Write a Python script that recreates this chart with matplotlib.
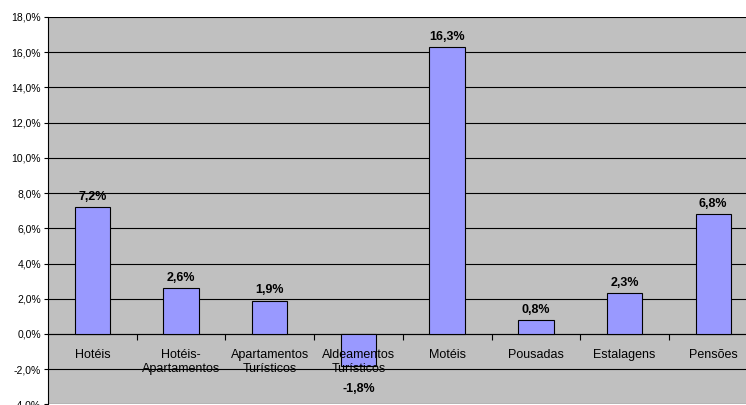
import matplotlib
matplotlib.use("Agg")
import matplotlib.pyplot as plt
from matplotlib.ticker import FuncFormatter, FixedLocator

plt.rcParams['font.family'] = ['Liberation Sans', 'DejaVu Sans']

categories = ["Hotéis", "Hotéis-\nApartamentos", "Apartamentos\nTurísticos",
              "Aldeamentos\nTurísticos", "Motéis", "Pousadas", "Estalagens", "Pensões"]
values = [7.2, 2.6, 1.9, -1.8, 16.3, 0.8, 2.3, 6.8]
value_labels = ["7,2%", "2,6%", "1,9%", "-1,8%", "16,3%", "0,8%", "2,3%", "6,8%"]

W, H = 746, 405
fig = plt.figure(figsize=(W / 100, H / 100), dpi=100)
left, right, top, bottom = 48, 757.6, 17, 404.4
ax = fig.add_axes([left / W, 1 - bottom / H, (right - left) / W, (bottom - top) / H])
ax.set_facecolor("#c0c0c0")

x = list(range(len(categories)))
ax.bar(x, values, width=0.4, color="#9999ff", edgecolor="black", linewidth=0.8, zorder=3)

ax.set_xlim(-0.5, len(categories) - 0.5)
ax.set_ylim(-4, 18)
ax.set_yticks(range(-4, 19, 2))
ax.yaxis.set_major_formatter(FuncFormatter(lambda v, p: f"{v:.1f}%".replace(".", ",")))
ax.grid(axis="y", color="black", linewidth=0.8, zorder=1)
ax.tick_params(axis="y", labelsize=7.5, length=3, width=0.8, pad=2, colors="black")

# category axis sits on the zero line
ax.spines["bottom"].set_position(("data", 0))
for s in ["top", "right"]:
    ax.spines[s].set_visible(False)
ax.spines["left"].set_linewidth(0.8)
ax.spines["bottom"].set_linewidth(0.8)
ax.set_xticks(x)
ax.set_xticklabels([])
ax.tick_params(axis="x", which="major", length=0)
ax.xaxis.set_minor_locator(FixedLocator([i + 0.5 for i in x[:-1]]))
ax.tick_params(axis="x", which="minor", length=4, width=0.8, direction="out")

# category names drawn above the bars
for xi, name in zip(x, categories):
    ax.annotate(name, (xi, 0), xytext=(0, -10.5), textcoords="offset points",
                ha="center", va="top", fontsize=9, linespacing=1.3,
                zorder=5, annotation_clip=False)

for xi, v, lab in zip(x, values, value_labels):
    if v >= 0:
        ax.annotate(lab, (xi, v), xytext=(0, 3), textcoords="offset points",
                    ha="center", va="bottom", fontsize=9, fontweight="bold")
    else:
        ax.annotate(lab, (xi, v), xytext=(0, -16.5), textcoords="offset points",
                    ha="center", va="center", fontsize=9, fontweight="bold")

fig.savefig("out.png", dpi=100)
